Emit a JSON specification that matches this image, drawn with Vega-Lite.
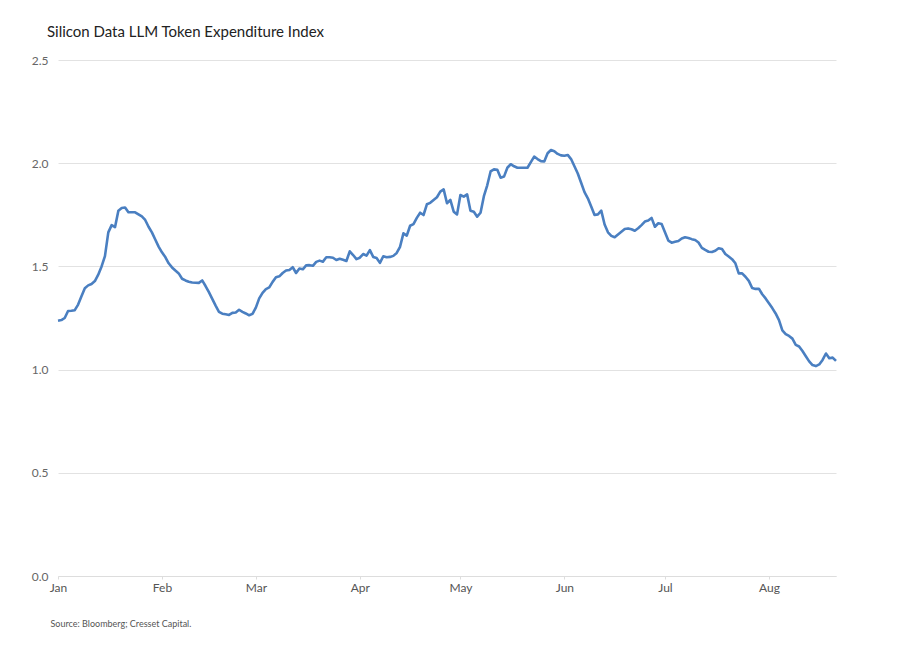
{
  "$schema": "https://vega.github.io/schema/vega-lite/v6.json",
  "autosize": {"type": "none"},
  "padding": {"left": 58, "top": 60, "right": 61, "bottom": 73},
  "width": 778,
  "height": 516,
  "title": {
    "text": "Silicon Data LLM Token Expenditure Index",
    "anchor": "start",
    "frame": "group",
    "dx": -11,
    "offset": 2,
    "baseline": "alphabetic",
    "fontSize": 15,
    "fontWeight": "normal",
    "color": "#222222",
    "font": "Lato"
  },
  "data": {
    "values": [
      {"date": "2025-01-01", "index": 1.237}, {"date": "2025-01-02", "index": 1.240}, {"date": "2025-01-03", "index": 1.250},
      {"date": "2025-01-04", "index": 1.284}, {"date": "2025-01-05", "index": 1.285}, {"date": "2025-01-06", "index": 1.288},
      {"date": "2025-01-07", "index": 1.315}, {"date": "2025-01-08", "index": 1.355}, {"date": "2025-01-09", "index": 1.394},
      {"date": "2025-01-10", "index": 1.408}, {"date": "2025-01-11", "index": 1.415}, {"date": "2025-01-12", "index": 1.429},
      {"date": "2025-01-13", "index": 1.460}, {"date": "2025-01-14", "index": 1.500}, {"date": "2025-01-15", "index": 1.550},
      {"date": "2025-01-16", "index": 1.665}, {"date": "2025-01-17", "index": 1.700}, {"date": "2025-01-18", "index": 1.690},
      {"date": "2025-01-19", "index": 1.770}, {"date": "2025-01-20", "index": 1.783}, {"date": "2025-01-21", "index": 1.785},
      {"date": "2025-01-22", "index": 1.762}, {"date": "2025-01-23", "index": 1.762}, {"date": "2025-01-24", "index": 1.762},
      {"date": "2025-01-25", "index": 1.752}, {"date": "2025-01-26", "index": 1.742}, {"date": "2025-01-27", "index": 1.725},
      {"date": "2025-01-28", "index": 1.692}, {"date": "2025-01-29", "index": 1.665}, {"date": "2025-01-30", "index": 1.630},
      {"date": "2025-01-31", "index": 1.596}, {"date": "2025-02-01", "index": 1.568}, {"date": "2025-02-02", "index": 1.545},
      {"date": "2025-02-03", "index": 1.515}, {"date": "2025-02-04", "index": 1.495}, {"date": "2025-02-05", "index": 1.480},
      {"date": "2025-02-06", "index": 1.466}, {"date": "2025-02-07", "index": 1.440}, {"date": "2025-02-08", "index": 1.432},
      {"date": "2025-02-09", "index": 1.426}, {"date": "2025-02-10", "index": 1.422}, {"date": "2025-02-11", "index": 1.421},
      {"date": "2025-02-12", "index": 1.420}, {"date": "2025-02-13", "index": 1.432}, {"date": "2025-02-14", "index": 1.405},
      {"date": "2025-02-15", "index": 1.375}, {"date": "2025-02-16", "index": 1.343}, {"date": "2025-02-17", "index": 1.310},
      {"date": "2025-02-18", "index": 1.280}, {"date": "2025-02-19", "index": 1.271}, {"date": "2025-02-20", "index": 1.268},
      {"date": "2025-02-21", "index": 1.265}, {"date": "2025-02-22", "index": 1.275}, {"date": "2025-02-23", "index": 1.277},
      {"date": "2025-02-24", "index": 1.290}, {"date": "2025-02-25", "index": 1.280}, {"date": "2025-02-26", "index": 1.272},
      {"date": "2025-02-27", "index": 1.263}, {"date": "2025-02-28", "index": 1.270}, {"date": "2025-03-01", "index": 1.300},
      {"date": "2025-03-02", "index": 1.345}, {"date": "2025-03-03", "index": 1.372}, {"date": "2025-03-04", "index": 1.390},
      {"date": "2025-03-05", "index": 1.398}, {"date": "2025-03-06", "index": 1.425}, {"date": "2025-03-07", "index": 1.447},
      {"date": "2025-03-08", "index": 1.452}, {"date": "2025-03-09", "index": 1.468}, {"date": "2025-03-10", "index": 1.480},
      {"date": "2025-03-11", "index": 1.483}, {"date": "2025-03-12", "index": 1.496}, {"date": "2025-03-13", "index": 1.468},
      {"date": "2025-03-14", "index": 1.490}, {"date": "2025-03-15", "index": 1.486}, {"date": "2025-03-16", "index": 1.505},
      {"date": "2025-03-17", "index": 1.506}, {"date": "2025-03-18", "index": 1.503}, {"date": "2025-03-19", "index": 1.522},
      {"date": "2025-03-20", "index": 1.528}, {"date": "2025-03-21", "index": 1.523}, {"date": "2025-03-22", "index": 1.544},
      {"date": "2025-03-23", "index": 1.544}, {"date": "2025-03-24", "index": 1.542}, {"date": "2025-03-25", "index": 1.531},
      {"date": "2025-03-26", "index": 1.537}, {"date": "2025-03-27", "index": 1.532}, {"date": "2025-03-28", "index": 1.526},
      {"date": "2025-03-29", "index": 1.573}, {"date": "2025-03-30", "index": 1.555}, {"date": "2025-03-31", "index": 1.535},
      {"date": "2025-04-01", "index": 1.542}, {"date": "2025-04-02", "index": 1.560}, {"date": "2025-04-03", "index": 1.552},
      {"date": "2025-04-04", "index": 1.579}, {"date": "2025-04-05", "index": 1.546}, {"date": "2025-04-06", "index": 1.541},
      {"date": "2025-04-07", "index": 1.517}, {"date": "2025-04-08", "index": 1.549}, {"date": "2025-04-09", "index": 1.544},
      {"date": "2025-04-10", "index": 1.546}, {"date": "2025-04-11", "index": 1.551}, {"date": "2025-04-12", "index": 1.565},
      {"date": "2025-04-13", "index": 1.595}, {"date": "2025-04-14", "index": 1.660}, {"date": "2025-04-15", "index": 1.649},
      {"date": "2025-04-16", "index": 1.697}, {"date": "2025-04-17", "index": 1.705}, {"date": "2025-04-18", "index": 1.735},
      {"date": "2025-04-19", "index": 1.760}, {"date": "2025-04-20", "index": 1.749}, {"date": "2025-04-21", "index": 1.801},
      {"date": "2025-04-22", "index": 1.808}, {"date": "2025-04-23", "index": 1.822}, {"date": "2025-04-24", "index": 1.835},
      {"date": "2025-04-25", "index": 1.862}, {"date": "2025-04-26", "index": 1.873}, {"date": "2025-04-27", "index": 1.806},
      {"date": "2025-04-28", "index": 1.822}, {"date": "2025-04-29", "index": 1.765}, {"date": "2025-04-30", "index": 1.752},
      {"date": "2025-05-01", "index": 1.846}, {"date": "2025-05-02", "index": 1.838}, {"date": "2025-05-03", "index": 1.849},
      {"date": "2025-05-04", "index": 1.770}, {"date": "2025-05-05", "index": 1.765}, {"date": "2025-05-06", "index": 1.741},
      {"date": "2025-05-07", "index": 1.760}, {"date": "2025-05-08", "index": 1.840}, {"date": "2025-05-09", "index": 1.893},
      {"date": "2025-05-10", "index": 1.960}, {"date": "2025-05-11", "index": 1.970}, {"date": "2025-05-12", "index": 1.968},
      {"date": "2025-05-13", "index": 1.930}, {"date": "2025-05-14", "index": 1.935}, {"date": "2025-05-15", "index": 1.978},
      {"date": "2025-05-16", "index": 1.995}, {"date": "2025-05-17", "index": 1.985}, {"date": "2025-05-18", "index": 1.978},
      {"date": "2025-05-19", "index": 1.978}, {"date": "2025-05-20", "index": 1.978}, {"date": "2025-05-21", "index": 1.978},
      {"date": "2025-05-22", "index": 2.005}, {"date": "2025-05-23", "index": 2.032}, {"date": "2025-05-24", "index": 2.020},
      {"date": "2025-05-25", "index": 2.010}, {"date": "2025-05-26", "index": 2.008}, {"date": "2025-05-27", "index": 2.048},
      {"date": "2025-05-28", "index": 2.064}, {"date": "2025-05-29", "index": 2.058}, {"date": "2025-05-30", "index": 2.045},
      {"date": "2025-05-31", "index": 2.038}, {"date": "2025-06-01", "index": 2.036}, {"date": "2025-06-02", "index": 2.040},
      {"date": "2025-06-03", "index": 2.020}, {"date": "2025-06-04", "index": 1.985}, {"date": "2025-06-05", "index": 1.950},
      {"date": "2025-06-06", "index": 1.905}, {"date": "2025-06-07", "index": 1.860}, {"date": "2025-06-08", "index": 1.830},
      {"date": "2025-06-09", "index": 1.790}, {"date": "2025-06-10", "index": 1.749}, {"date": "2025-06-11", "index": 1.752},
      {"date": "2025-06-12", "index": 1.770}, {"date": "2025-06-13", "index": 1.703}, {"date": "2025-06-14", "index": 1.665},
      {"date": "2025-06-15", "index": 1.648}, {"date": "2025-06-16", "index": 1.641}, {"date": "2025-06-17", "index": 1.655},
      {"date": "2025-06-18", "index": 1.668}, {"date": "2025-06-19", "index": 1.681}, {"date": "2025-06-20", "index": 1.684},
      {"date": "2025-06-21", "index": 1.680}, {"date": "2025-06-22", "index": 1.673}, {"date": "2025-06-23", "index": 1.685},
      {"date": "2025-06-24", "index": 1.700}, {"date": "2025-06-25", "index": 1.717}, {"date": "2025-06-26", "index": 1.722},
      {"date": "2025-06-27", "index": 1.735}, {"date": "2025-06-28", "index": 1.692}, {"date": "2025-06-29", "index": 1.709},
      {"date": "2025-06-30", "index": 1.705}, {"date": "2025-07-01", "index": 1.665}, {"date": "2025-07-02", "index": 1.625},
      {"date": "2025-07-03", "index": 1.615}, {"date": "2025-07-04", "index": 1.619}, {"date": "2025-07-05", "index": 1.623},
      {"date": "2025-07-06", "index": 1.635}, {"date": "2025-07-07", "index": 1.641}, {"date": "2025-07-08", "index": 1.638},
      {"date": "2025-07-09", "index": 1.632}, {"date": "2025-07-10", "index": 1.628}, {"date": "2025-07-11", "index": 1.616},
      {"date": "2025-07-12", "index": 1.590}, {"date": "2025-07-13", "index": 1.580}, {"date": "2025-07-14", "index": 1.571},
      {"date": "2025-07-15", "index": 1.570}, {"date": "2025-07-16", "index": 1.576}, {"date": "2025-07-17", "index": 1.588},
      {"date": "2025-07-18", "index": 1.584}, {"date": "2025-07-19", "index": 1.560}, {"date": "2025-07-20", "index": 1.548},
      {"date": "2025-07-21", "index": 1.535}, {"date": "2025-07-22", "index": 1.515}, {"date": "2025-07-23", "index": 1.466},
      {"date": "2025-07-24", "index": 1.466}, {"date": "2025-07-25", "index": 1.450}, {"date": "2025-07-26", "index": 1.430},
      {"date": "2025-07-27", "index": 1.395}, {"date": "2025-07-28", "index": 1.391}, {"date": "2025-07-29", "index": 1.392},
      {"date": "2025-07-30", "index": 1.365}, {"date": "2025-07-31", "index": 1.345}, {"date": "2025-08-01", "index": 1.322},
      {"date": "2025-08-02", "index": 1.298}, {"date": "2025-08-03", "index": 1.272}, {"date": "2025-08-04", "index": 1.240},
      {"date": "2025-08-05", "index": 1.190}, {"date": "2025-08-06", "index": 1.172}, {"date": "2025-08-07", "index": 1.163},
      {"date": "2025-08-08", "index": 1.150}, {"date": "2025-08-09", "index": 1.120}, {"date": "2025-08-10", "index": 1.112},
      {"date": "2025-08-11", "index": 1.090}, {"date": "2025-08-12", "index": 1.065}, {"date": "2025-08-13", "index": 1.040},
      {"date": "2025-08-14", "index": 1.022}, {"date": "2025-08-15", "index": 1.017}, {"date": "2025-08-16", "index": 1.025},
      {"date": "2025-08-17", "index": 1.047}, {"date": "2025-08-18", "index": 1.078}, {"date": "2025-08-19", "index": 1.055},
      {"date": "2025-08-20", "index": 1.058}, {"date": "2025-08-21", "index": 1.042}
    ]
  },
  "mark": {"type": "line", "color": "#4a7fc1", "strokeWidth": 2.6, "strokeJoin": "round"},
  "encoding": {
    "x": {
      "field": "date",
      "type": "temporal",
      "scale": {"type": "utc", "nice": false},
      "axis": {
        "labelExpr": "utcFormat(datum.value, '%b')",
        "tickCount": {"interval": "month", "step": 1},
        "labelFlush": false,
        "grid": false,
        "domainColor": "#dddddd",
        "tickColor": "#dddddd",
        "tickSize": 3,
        "labelFont": "Lato",
        "labelFontSize": 12,
        "labelColor": "#555555",
        "labelPadding": 3,
        "title": "Source: Bloomberg; Cresset Capital.",
        "titleFont": "Lato",
        "titleFontSize": 9,
        "titleFontWeight": "normal",
        "titleColor": "#555555",
        "titleAnchor": "start",
        "titleAlign": "left",
        "titleBaseline": "middle",
        "titleX": -8,
        "titleY": 47
      }
    },
    "y": {
      "field": "index",
      "type": "quantitative",
      "scale": {"domain": [0, 2.5], "nice": false},
      "axis": {
        "title": null,
        "values": [0, 0.5, 1, 1.5, 2, 2.5],
        "format": ".1f",
        "domain": false,
        "ticks": false,
        "gridColor": "#e2e2e2",
        "labelFont": "Lato",
        "labelFontSize": 12,
        "labelColor": "#666666",
        "labelPadding": 10
      }
    }
  },
  "config": {
    "view": {"stroke": null},
    "background": "white"
  }
}
